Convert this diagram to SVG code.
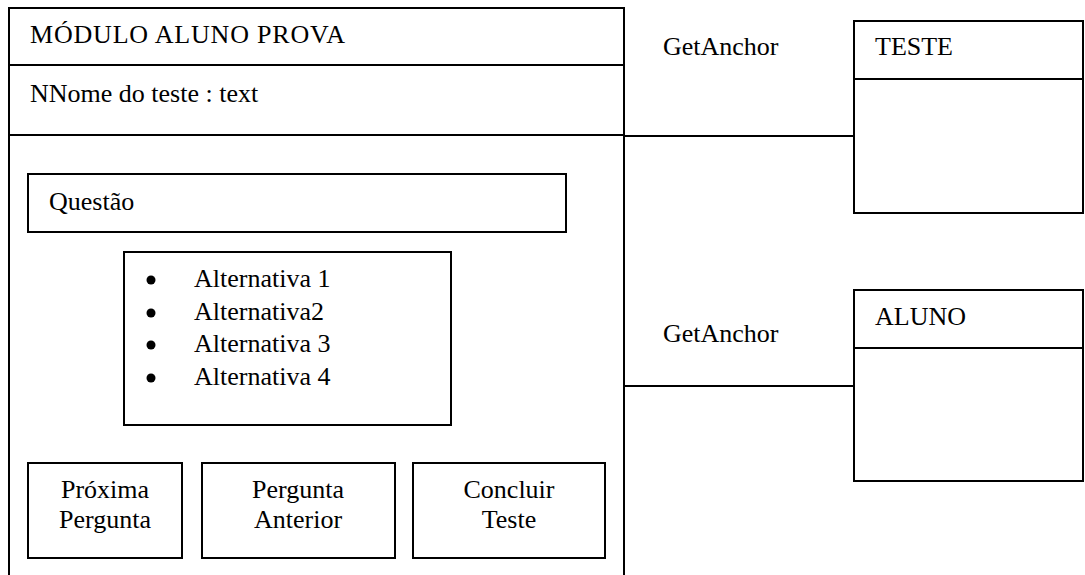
<svg xmlns="http://www.w3.org/2000/svg" width="1085" height="575" viewBox="0 0 1085 575">
  <style>
    .box { fill: #ffffff; stroke: #000000; stroke-width: 2; }
    .line { fill: none; stroke: #000000; stroke-width: 2; }
    .lbl { font-family: 'Liberation Serif', 'DejaVu Serif', serif; font-size: 26px; fill: #000000; }
    .mid { text-anchor: middle; }
  </style>
  <rect width="1085" height="575" fill="#ffffff"/>

  <!-- main module frame (open at the bottom) -->
  <g id="modulo-aluno-prova">
    <path class="line" d="M9,575 V8 H624 V575"/>
    <line class="line" x1="9" y1="65" x2="624" y2="65"/>
    <line class="line" x1="9" y1="135" x2="624" y2="135"/>
    <text class="lbl" x="30" y="43" letter-spacing="0.8">MÓDULO ALUNO PROVA</text>
    <text class="lbl" x="30" y="102">NNome do teste : text</text>
  </g>

  <g id="questao">
    <rect class="box" x="28" y="174" width="538" height="58"/>
    <text class="lbl" x="49" y="210">Questão</text>
  </g>

  <g id="alternativas">
    <rect class="box" x="124" y="252" width="327" height="173"/>
    <circle cx="151" cy="280" r="4.5" fill="#000000"/>
    <circle cx="151" cy="313" r="4.5" fill="#000000"/>
    <circle cx="151" cy="345" r="4.5" fill="#000000"/>
    <circle cx="151" cy="378" r="4.5" fill="#000000"/>
    <text class="lbl" x="194" y="287">Alternativa 1</text>
    <text class="lbl" x="194" y="320">Alternativa2</text>
    <text class="lbl" x="194" y="352">Alternativa 3</text>
    <text class="lbl" x="194" y="385">Alternativa 4</text>
  </g>

  <g id="proxima-pergunta">
    <rect class="box" x="28" y="463" width="154" height="95"/>
    <text class="lbl mid" x="105" y="498">Próxima</text>
    <text class="lbl mid" x="105" y="528">Pergunta</text>
  </g>

  <g id="pergunta-anterior">
    <rect class="box" x="202" y="463" width="193" height="95"/>
    <text class="lbl mid" x="298" y="498">Pergunta</text>
    <text class="lbl mid" x="298" y="528">Anterior</text>
  </g>

  <g id="concluir-teste">
    <rect class="box" x="413" y="463" width="192" height="95"/>
    <text class="lbl mid" x="509" y="498">Concluir</text>
    <text class="lbl mid" x="509" y="528">Teste</text>
  </g>

  <g id="teste">
    <rect class="box" x="854" y="21" width="229" height="192"/>
    <line class="line" x1="854" y1="79" x2="1083" y2="79"/>
    <text class="lbl" x="875" y="55">TESTE</text>
  </g>

  <g id="aluno">
    <rect class="box" x="854" y="290" width="229" height="191"/>
    <line class="line" x1="854" y1="348" x2="1083" y2="348"/>
    <text class="lbl" x="875" y="325">ALUNO</text>
  </g>

  <!-- associations between the module and its classes -->
  <g id="connectors">
    <line class="line" x1="624" y1="136" x2="854" y2="136"/>
    <line class="line" x1="624" y1="386" x2="854" y2="386"/>
    <text class="lbl" x="663" y="55">GetAnchor</text>
    <text class="lbl" x="663" y="342">GetAnchor</text>
  </g>
</svg>
